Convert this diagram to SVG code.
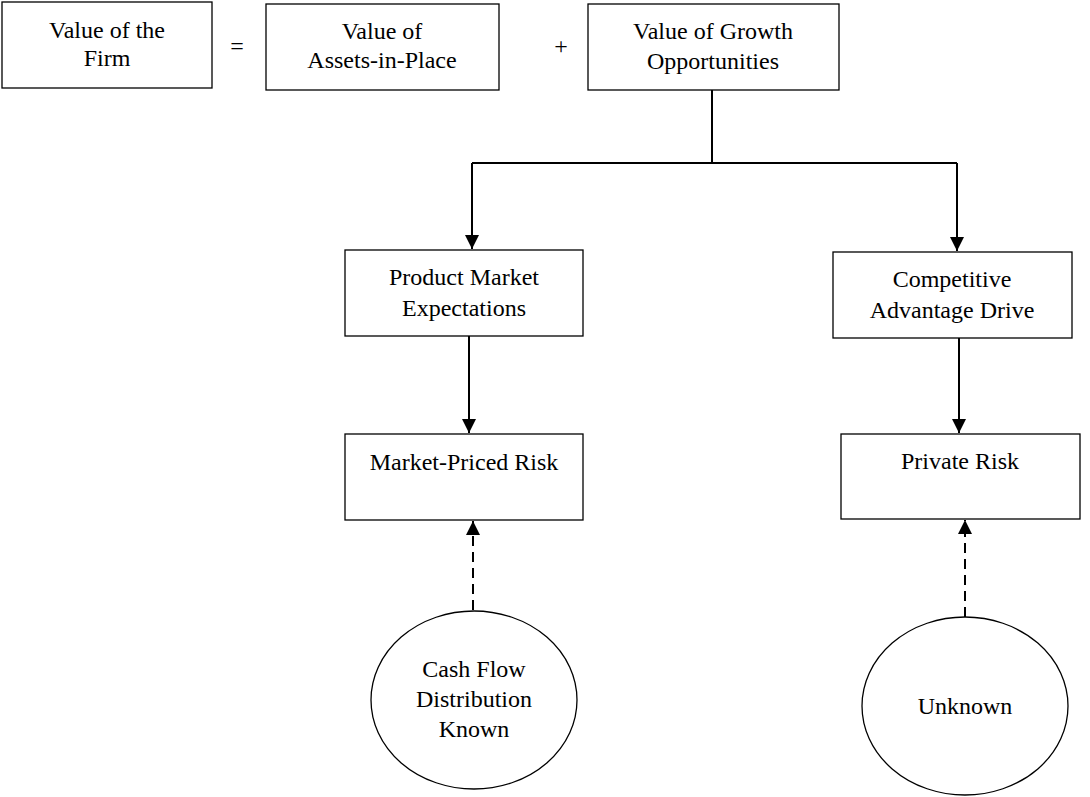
<svg xmlns="http://www.w3.org/2000/svg" width="1090" height="797" viewBox="0 0 1090 797">
<defs>
<marker id="ah" viewBox="0 0 14 14" refX="14" refY="7" markerWidth="14" markerHeight="14" markerUnits="userSpaceOnUse" orient="auto">
<path d="M0,0 L14,7 L0,14 Z" fill="#000"/>
</marker>
</defs>
<style>
.n { fill: #fff; stroke: #000; stroke-width: 1.3; }
text { font-family: "Liberation Serif", "Times New Roman", serif; font-size: 24px; fill: #000; text-anchor: middle; }
.c { fill: none; stroke: #000; stroke-width: 2; }
.d { stroke-dasharray: 10 6; }
</style>
<rect x="0" y="0" width="1090" height="797" fill="#fff"/>
<g id="connectors">
<polyline class="c" points="712,90 712,163"/>
<polyline class="c" points="472,163 957,163"/>
<polyline class="c" points="472,163 472,249" marker-end="url(#ah)"/>
<polyline class="c" points="957,163 957,251" marker-end="url(#ah)"/>
<polyline class="c" points="469,336 469,433" marker-end="url(#ah)"/>
<polyline class="c" points="959,338 959,433" marker-end="url(#ah)"/>
<polyline class="c d" points="473,610 473,521" marker-end="url(#ah)"/>
<polyline class="c d" points="965,617 965,520" marker-end="url(#ah)"/>
</g>
<g id="firm">
<rect class="n" x="2" y="2" width="210" height="86"/>
<text x="107" y="38">Value of the</text>
<text x="107" y="66">Firm</text>
</g>
<text x="237" y="54">=</text>
<g id="assets">
<rect class="n" x="266" y="4" width="233" height="86"/>
<text x="382" y="39">Value of</text>
<text x="382" y="68">Assets-in-Place</text>
</g>
<text x="561" y="54">+</text>
<g id="growth">
<rect class="n" x="588" y="4" width="251" height="86"/>
<text x="713" y="39">Value of Growth</text>
<text x="713" y="69">Opportunities</text>
</g>
<g id="pme">
<rect class="n" x="345" y="250" width="238" height="86"/>
<text x="464" y="285">Product Market</text>
<text x="464" y="316">Expectations</text>
</g>
<g id="cad">
<rect class="n" x="833" y="252" width="239" height="86"/>
<text x="952" y="287">Competitive</text>
<text x="952" y="318">Advantage Drive</text>
</g>
<g id="mpr">
<rect class="n" x="345" y="434" width="238" height="86"/>
<text x="464" y="470">Market-Priced Risk</text>
</g>
<g id="private">
<rect class="n" x="841" y="434" width="239" height="85"/>
<text x="960" y="469">Private Risk</text>
</g>
<g id="cashflow">
<ellipse class="n" cx="474" cy="700" rx="103" ry="89"/>
<text x="474" y="677">Cash Flow</text>
<text x="474" y="707">Distribution</text>
<text x="474" y="737">Known</text>
</g>
<g id="unknown">
<ellipse class="n" cx="965" cy="706" rx="103" ry="89"/>
<text x="965" y="714">Unknown</text>
</g>
</svg>
